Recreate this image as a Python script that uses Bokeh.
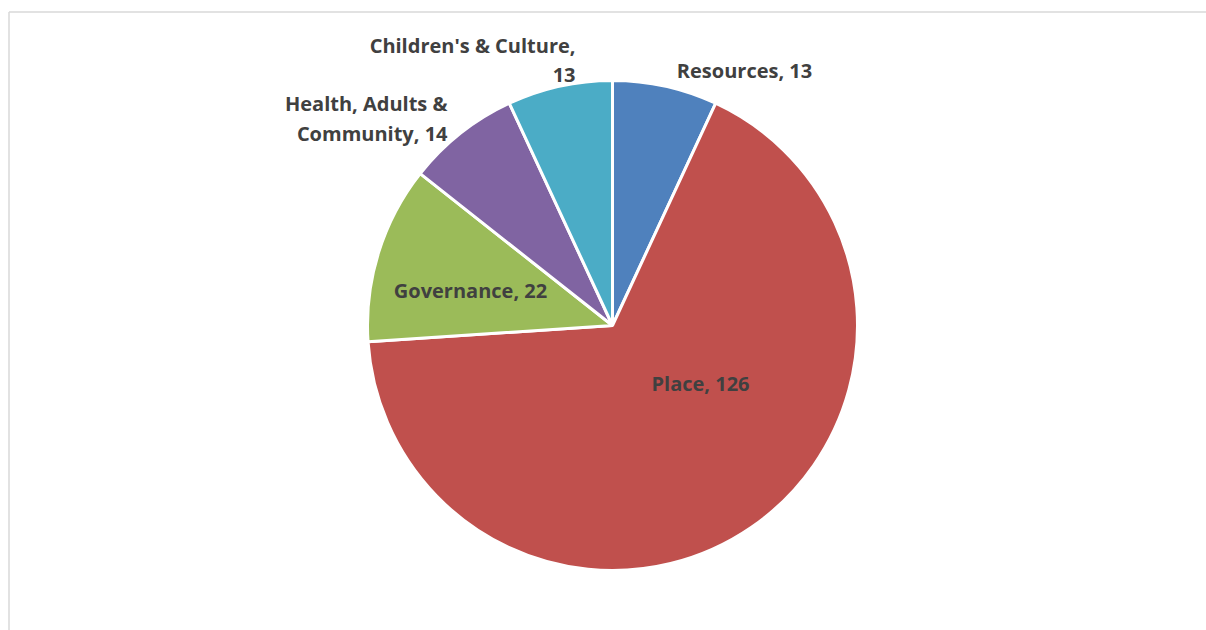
import math
from bokeh.plotting import figure
from bokeh.models import Range1d, ColumnDataSource
from bokeh.core.properties import value
from bokeh.embed import file_html
from bokeh.resources import INLINE

# ---- data ----
categories = ["Resources", "Place", "Governance", "Health, Adults & Community", "Children's & Culture"]
counts = [13, 126, 22, 14, 13]
colors = ["#4F81BD", "#C0504D", "#9BBB59", "#8064A2", "#4BACC6"]
# number of words kept on the first label line (None = single line)
wrap_words = [None, None, None, 3, 3]

# ---- layout (screen pixel coordinates) ----
CX, CY, R = 612, 325, 245
label_pos = [  # (x, y of first line, align)
    (744, 70, "center"),
    (700, 383, "center"),
    (470, 290, "center"),
    (447, 103, "right"),
    (575, 45, "right"),
]
LINE_GAP = 29.5

p = figure(width=1206, height=630, output_backend="svg", toolbar_location=None,
           x_range=Range1d(0, 1206), y_range=Range1d(-630, 0),
           x_axis_location=None, y_axis_location=None,
           min_border_top=0, min_border_left=0, min_border_right=0, min_border_bottom=0)
p.grid.visible = False
p.outline_line_color = None
p.background_fill_color = "white"
p.border_fill_color = "white"

# chart-area border (left and top edges visible in the window)
p.segment(x0=[8.5, 8.5], y0=[-11.5, -11.5], x1=[8.5, 1206], y1=[-630, -11.5],
          line_color="#D9D9D9", line_width=1.5)

total = sum(counts)
starts, ends = [], []
cum = 0
for c in counts:
    starts.append(math.pi / 2 - 2 * math.pi * cum / total)
    cum += c
    ends.append(math.pi / 2 - 2 * math.pi * cum / total)

src = ColumnDataSource(dict(x=[CX] * len(counts), y=[-CY] * len(counts),
                            start=starts, end=ends, color=colors))
p.wedge(x="x", y="y", radius=R, start_angle="start", end_angle="end",
        direction="clock", fill_color="color", line_color="white",
        line_width=3, source=src)

tx, ty, tt, ta = [], [], [], []
for cat, v, w, (x, y, al) in zip(categories, counts, wrap_words, label_pos):
    full = f"{cat}, {v}"
    words = full.split(" ")
    lines = [full] if w is None else [" ".join(words[:w]), " ".join(words[w:])]
    for i, ln in enumerate(lines):
        tx.append(x)
        ty.append(-(y + i * LINE_GAP))
        tt.append(ln)
        ta.append(al)

p.text(x=tx, y=ty, text=tt, text_align=ta, text_baseline="middle",
       text_font=value("Open Sans"), text_font_style="bold",
       text_font_size="20px", text_color="#404040")

open("out.html", "w").write(file_html(p, INLINE))
